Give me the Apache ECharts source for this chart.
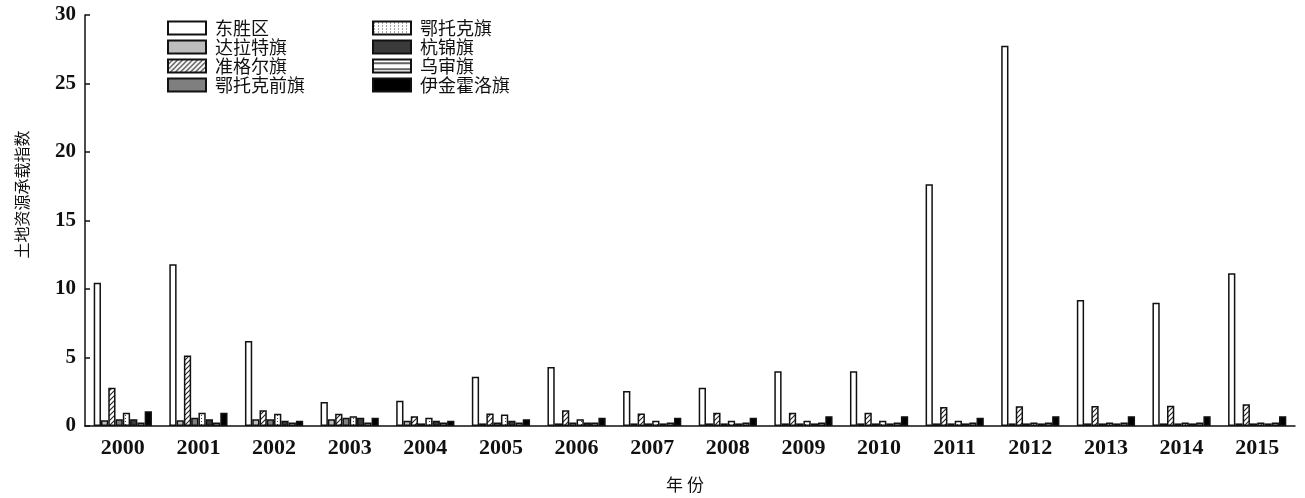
<!DOCTYPE html>
<html>
<head>
<meta charset="utf-8">
<script src="https://cdn.jsdelivr.net/npm/echarts@6/dist/echarts.min.js"></script>
<style>
  html, body { margin: 0; padding: 0; background: #fff; }
  #chart { width: 1305px; height: 498px; }
</style>
</head>
<body>
<div id="chart"></div>
<script>
// Land resource carrying index of the Ordos districts and banners, 2000–2015
const years = ['2000','2001','2002','2003','2004','2005','2006','2007','2008','2009','2010','2011','2012','2013','2014','2015'];
const seriesNames = ['东胜区','达拉特旗','准格尔旗','鄂托克前旗','鄂托克旗','杭锦旗','乌审旗','伊金霍洛旗'];

const dongsheng   = [10.45, 11.8, 6.2, 1.75, 1.85, 3.6, 4.3, 2.55, 2.8, 4.0, 4.0, 17.65, 27.75, 9.2, 9.0, 11.15];
const dalate      = [0.42, 0.42, 0.5, 0.5, 0.38, 0.19, 0.19, 0.19, 0.19, 0.19, 0.19, 0.19, 0.19, 0.19, 0.19, 0.19];
const zhungeer    = [2.8, 5.15, 1.15, 0.89, 0.72, 0.91, 1.15, 0.91, 0.96, 0.96, 0.96, 1.39, 1.44, 1.46, 1.48, 1.58];
const etuokeqian  = [0.5, 0.6, 0.5, 0.6, 0.19, 0.26, 0.26, 0.19, 0.19, 0.19, 0.19, 0.19, 0.19, 0.19, 0.19, 0.19];
const etuoke      = [0.96, 0.96, 0.89, 0.72, 0.6, 0.84, 0.5, 0.38, 0.38, 0.38, 0.38, 0.38, 0.26, 0.26, 0.26, 0.26];
const hangjin     = [0.5, 0.5, 0.38, 0.6, 0.38, 0.38, 0.26, 0.19, 0.19, 0.19, 0.19, 0.19, 0.19, 0.19, 0.19, 0.19];
const wushen      = [0.26, 0.26, 0.26, 0.26, 0.26, 0.26, 0.26, 0.26, 0.26, 0.26, 0.26, 0.26, 0.26, 0.26, 0.26, 0.26];
const yijinhuoluo = [1.08, 0.96, 0.38, 0.6, 0.38, 0.5, 0.6, 0.6, 0.6, 0.72, 0.72, 0.6, 0.72, 0.72, 0.72, 0.72];

const yTicks = { min: 0, max: 30, interval: 5 };

// Fill patterns drawn on small canvases
function makePattern(w, h, draw) {
  const c = document.createElement('canvas');
  c.width = w; c.height = h;
  const ctx = c.getContext('2d');
  ctx.fillStyle = '#fff';
  ctx.fillRect(0, 0, w, h);
  draw(ctx);
  return { image: c, repeat: 'repeat' };
}
const hatchFill = makePattern(5, 5, ctx => {
  ctx.strokeStyle = '#222';
  ctx.lineWidth = 1.1;
  ctx.beginPath();
  ctx.moveTo(-1, 6); ctx.lineTo(6, -1);
  ctx.moveTo(-1, 1); ctx.lineTo(1, -1);
  ctx.moveTo(4, 6); ctx.lineTo(6, 4);
  ctx.stroke();
});
const dotFill = makePattern(4, 3, ctx => {
  ctx.fillStyle = '#444';
  ctx.fillRect(1, 1, 1, 1);
});
const lineFill = makePattern(4, 6, ctx => {
  ctx.fillStyle = '#111';
  ctx.fillRect(0, 3, 4, 1.3);
});

const fills = ['#ffffff', '#bdbdbd', hatchFill, '#7f7f7f', dotFill, '#3a3a3a', lineFill, '#000000'];
const values = [dongsheng, dalate, zhungeer, etuokeqian, etuoke, hangjin, wushen, yijinhuoluo];

const serifFont = '"Liberation Serif", "DejaVu Serif", serif';
const cjkFont = '"Noto Sans CJK SC", sans-serif';

const legendBase = {
  orient: 'vertical',
  top: 19,
  padding: 0,
  itemWidth: 38,
  itemHeight: 13,
  itemGap: 1,
  icon: 'rect',
  selectedMode: false,
  textStyle: { fontFamily: cjkFont, fontSize: 18, lineHeight: 17, color: '#111', padding: [0, 0, 0, 4] }
};

const chart = echarts.init(document.getElementById('chart'), null, { renderer: 'canvas' });
chart.setOption({
  animation: false,
  backgroundColor: '#fff',
  legend: [
    Object.assign({}, legendBase, { left: 167, data: seriesNames.slice(0, 4) }),
    Object.assign({}, legendBase, { left: 372, data: seriesNames.slice(4) })
  ],
  grid: { left: 85, right: 10, top: 15, bottom: 66, containLabel: false },
  xAxis: {
    type: 'category',
    data: years,
    name: '年 份',
    nameLocation: 'middle',
    nameGap: 50,
    nameTextStyle: { fontFamily: cjkFont, fontSize: 17, color: '#111', padding: [0, 10, 0, 0] },
    axisLine: { lineStyle: { color: '#111', width: 1.5 } },
    axisTick: { show: false },
    axisLabel: { fontFamily: serifFont, fontWeight: 'bold', fontSize: 22, color: '#111', margin: 11 }
  },
  yAxis: {
    type: 'value',
    min: yTicks.min,
    max: yTicks.max,
    interval: yTicks.interval,
    name: '土地资源承载指数',
    nameLocation: 'middle',
    nameRotate: 90,
    nameGap: 55,
    nameTextStyle: { fontFamily: cjkFont, fontSize: 16, color: '#111', padding: [0, 0, 0, 52] },
    axisLine: { show: true, lineStyle: { color: '#111', width: 1.5 } },
    axisTick: { show: true, inside: true, length: 5, lineStyle: { color: '#111', width: 1.5 } },
    splitLine: { show: false },
    axisLabel: { fontFamily: serifFont, fontWeight: 'bold', fontSize: 21, color: '#111', margin: 9 }
  },
  series: seriesNames.map((name, i) => ({
    name: name,
    type: 'bar',
    data: values[i],
    barGap: '0%',
    barCategoryGap: '23%',
    itemStyle: { color: fills[i], borderColor: '#111', borderWidth: 1.5 }
  }))
});
</script>
</body>
</html>
